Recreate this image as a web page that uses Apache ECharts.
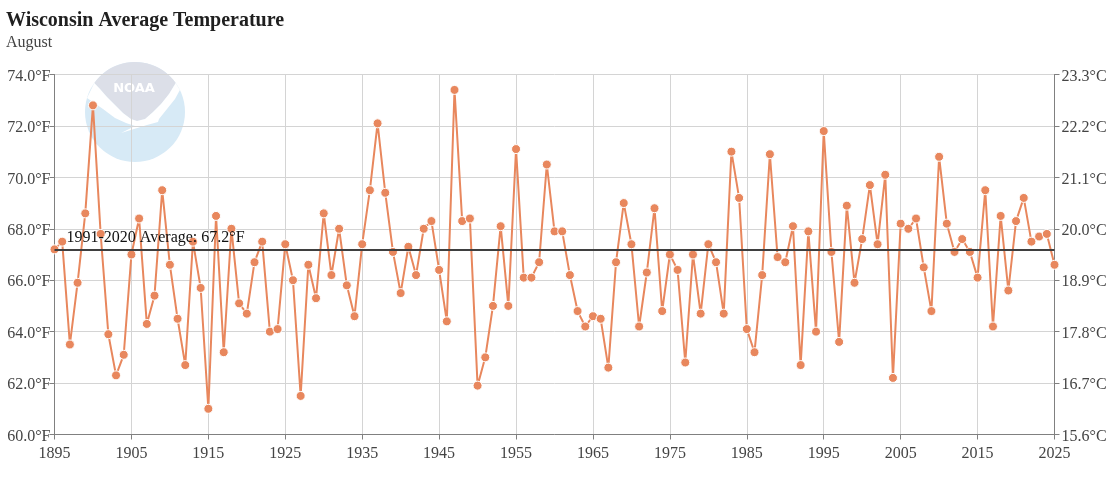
<!DOCTYPE html>
<html>
<head>
<meta charset="utf-8">
<style>html,body{margin:0;padding:0;background:#fff}#c{width:1110px;height:500px}</style>
<script src="https://cdn.jsdelivr.net/npm/echarts@6/dist/echarts.min.js"></script>
</head>
<body>
<div id="c"></div>
<script>
const years = [];
for (let y = 1895; y <= 2025; y++) years.push(String(y));
const temps = [
67.2,67.5,63.5,65.9,68.6,72.8,67.8,63.9,62.3,63.1,
67.0,68.4,64.3,65.4,69.5,66.6,64.5,62.7,67.5,65.7,
61.0,68.5,63.2,68.0,65.1,64.7,66.7,67.5,64.0,64.1,
67.4,66.0,61.5,66.6,65.3,68.6,66.2,68.0,65.8,64.6,
67.4,69.5,72.1,69.4,67.1,65.5,67.3,66.2,68.0,68.3,
66.4,64.4,73.4,68.3,68.4,61.9,63.0,65.0,68.1,65.0,
71.1,66.1,66.1,66.7,70.5,67.9,67.9,66.2,64.8,64.2,
64.6,64.5,62.6,66.7,69.0,67.4,64.2,66.3,68.8,64.8,
67.0,66.4,62.8,67.0,64.7,67.4,66.7,64.7,71.0,69.2,
64.1,63.2,66.2,70.9,66.9,66.7,68.1,62.7,67.9,64.0,
71.8,67.1,63.6,68.9,65.9,67.6,69.7,67.4,70.1,62.2,
68.2,68.0,68.4,66.5,64.8,70.8,68.2,67.1,67.6,67.1,
66.1,69.5,64.2,68.5,65.6,68.3,69.2,67.5,67.7,67.8,66.6
];
const average = 67.2;
const titleText = 'Wisconsin Average Temperature';
const subtitleText = 'August';
const averageLabel = '1991-2020 Average: 67.2°F';
const FONT = '"Liberation Serif", "Times New Roman", serif';

// NOAA emblem outline, in the emblem's own 100x100 box
const domeArc = [];
for (let d = -35.4; d >= -144.6; d -= 5) {
  const r = d * Math.PI / 180;
  domeArc.push([50 + 50 * Math.cos(r), 50 + 50 * Math.sin(r)]);
}
const wingTop = [[9.3,21],[15,27],[22,35],[30,43],[38,51],[46,57],[52,59],[60,57],[68,50],[76,42],[84,32],[90.7,21]];
const dome = wingTop.concat(domeArc);
const swoosh = wingTop.concat([[94.9,28],[90,37],[82,47],[74,57],[73,60],[62,63],[36,71],[50,64],[41,61],[30,56],[18,47],[2,36]]);

const chart = echarts.init(document.getElementById('c'), null, {renderer:'canvas'});
chart.setOption({
  animation:false,
  backgroundColor:'#fff',
  title:{
    left:1, top:6, text:titleText, subtext:subtitleText, itemGap:4,
    textStyle:{fontFamily:FONT,fontSize:20,fontWeight:'bold',color:'#1f1f1f'},
    subtextStyle:{fontFamily:FONT,fontSize:16,color:'#444'}
  },
  grid:{left:54.5,right:55.5,top:74.5,bottom:65.5,containLabel:false},
  graphic:[{
    type:'group', left:85, top:62, silent:true,
    children:[
      {type:'circle',z:-1,shape:{cx:50,cy:50,r:50},style:{fill:'#d7eaf6'}},
      {type:'polygon',z:-1,shape:{points:dome},style:{fill:'#dcdfe8'}},
      {type:'polygon',z:-1,shape:{points:swoosh},style:{fill:'#ffffff'}},
      {type:'text',z:-1,style:{x:49,y:27,text:'NOAA',fill:'#ffffff',align:'center',verticalAlign:'middle',font:'bold 13px "DejaVu Sans", sans-serif'}}
    ]
  }],
  xAxis:{
    type:'category', data:years, boundaryGap:false,
    axisLine:{lineStyle:{color:'#808080',width:1}},
    axisTick:{show:true,interval:9,length:5,lineStyle:{color:'#808080'}},
    axisLabel:{interval:9,fontFamily:FONT,fontSize:16,color:'#444',margin:11,showMaxLabel:true},
    splitLine:{show:true,interval:9,lineStyle:{color:'#d4d4d4',width:1}}
  },
  yAxis:[{
    type:'value', min:60, max:74, interval:2,
    axisLine:{show:true,lineStyle:{color:'#808080'}},
    axisTick:{show:true,length:5,lineStyle:{color:'#808080'}},
    axisLabel:{fontFamily:FONT,fontSize:16,color:'#444',margin:4,verticalAlign:'top',padding:[-6,0,0,0],formatter:v=>v.toFixed(1)+'°F'},
    splitLine:{show:true,lineStyle:{color:'#d4d4d4',width:1}}
  },{
    type:'value', min:60, max:74, interval:2, position:'right',
    axisLine:{show:true,lineStyle:{color:'#808080'}},
    axisTick:{show:true,length:5,lineStyle:{color:'#808080'}},
    axisLabel:{fontFamily:FONT,fontSize:16,color:'#444',margin:7,verticalAlign:'top',padding:[-6,0,0,0],formatter:v=>((v-32)*5/9).toFixed(1)+'°C'},
    splitLine:{show:false}
  }],
  series:[{
    type:'line', data:temps, symbol:'circle', symbolSize:9, showAllSymbol:true, z:3,
    lineStyle:{color:'#e8875d',width:2},
    itemStyle:{color:'#e8875d',borderColor:'#fff',borderWidth:1},
    markLine:{
      silent:true, symbol:'none', z:4, animation:false,
      lineStyle:{color:'#3f3f3f',width:2,type:'solid'},
      label:{show:true,position:'insideStartTop',formatter:averageLabel,fontFamily:FONT,fontSize:16,color:'#111',distance:[12,4]},
      data:[{yAxis:average}]
    }
  }]
});
</script>
</body>
</html>
